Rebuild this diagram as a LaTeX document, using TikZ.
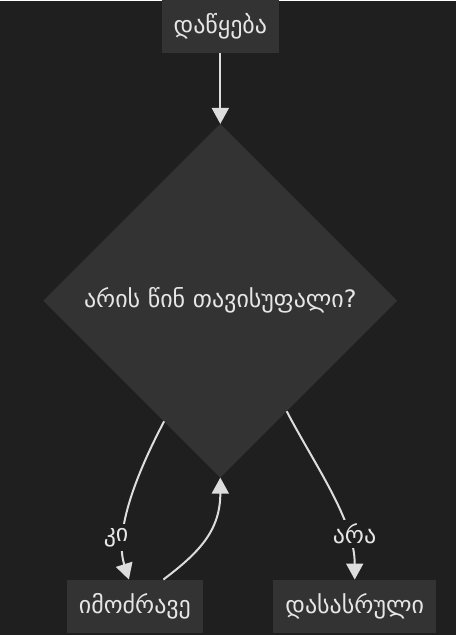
\documentclass[tikz,border=0pt]{standalone}
\usepackage{fontspec}
\setmainfont{DejaVu Sans}
\usetikzlibrary{arrows.meta, positioning, shapes.geometric}
\definecolor{bgc}{HTML}{1F1F1F}
\definecolor{boxc}{HTML}{333333}
\definecolor{linec}{HTML}{DDDDDD}
\definecolor{txtc}{HTML}{E6E6E6}

\begin{document}
\begin{tikzpicture}[x=1pt, y=-1pt,
    box/.style={rectangle, fill=boxc, text=txtc, font=\fontsize{24}{28}\selectfont,
        minimum height=53pt, inner xsep=12pt, outer sep=0pt},
    choice/.style={diamond, fill=boxc, text=txtc, font=\fontsize{24}{28}\selectfont,
        minimum size=354pt, inner sep=0pt, outer sep=0pt},
    flow/.style={draw=linec, line width=2pt, -{Triangle[length=16pt, width=17pt]}},
    lbl/.style={fill=bgc, text=txtc, font=\fontsize{24}{28}\selectfont, inner sep=4pt}]
    % Background
    \fill[bgc] (0,0) rectangle (456,635);

    % Start and decision
    \node[box] (start) at (220.5,26) {დაწყება};
    \node[choice, below=71pt of start] (dec) {არის წინ თავისუფალი?};

    % Outcomes
    \node[box, below=102pt of dec, xshift=-85.5pt] (move) {იმოძრავე};
    \node[box, below=102pt of dec, xshift=134.5pt] (done) {დასასრული};

    % Connectors
    \draw[flow] (start) -- (dec);
    \draw[flow] (dec.245) .. controls (128,490) and (116,538) .. ([xshift=-6pt]move.north)
        node[lbl, pos=0.68, xshift=-8pt] (yes) {კი};
    \draw[flow] ([xshift=28.5pt]move.north) .. controls (200,552) and (220.5,530) .. (dec.south);
    \draw[flow] (dec.-59) .. controls (315,465) and (355,520) .. (done.north)
        node[lbl, pos=0.74, xshift=7pt] (no) {არა};
\end{tikzpicture}
\end{document}
